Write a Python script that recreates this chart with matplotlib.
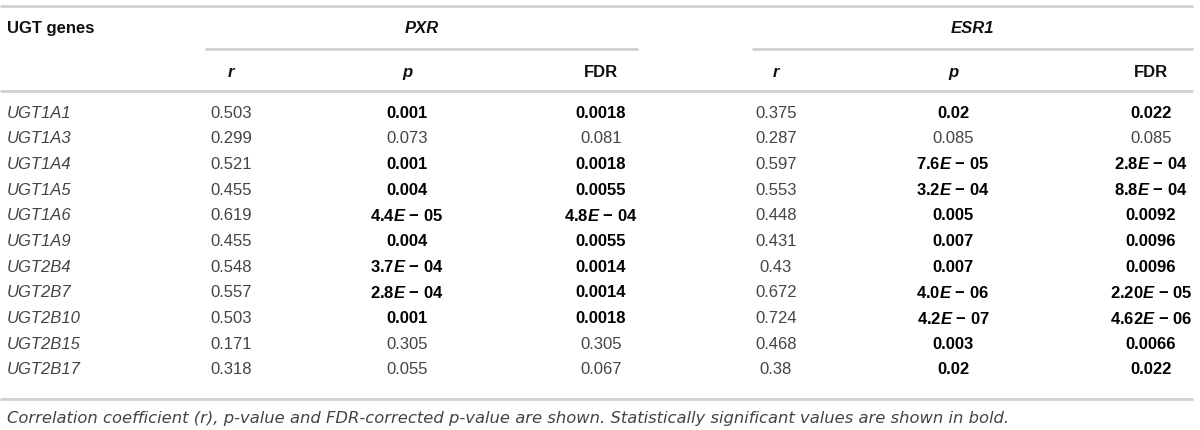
import matplotlib
matplotlib.use("Agg")
import matplotlib.pyplot as plt

# table contents
genes = ["UGT1A1", "UGT1A3", "UGT1A4", "UGT1A5", "UGT1A6", "UGT1A9",
         "UGT2B4", "UGT2B7", "UGT2B10", "UGT2B15", "UGT2B17"]

pxr_r = ["0.503", "0.299", "0.521", "0.455", "0.619", "0.455",
         "0.548", "0.557", "0.503", "0.171", "0.318"]
pxr_p = ["0.001", "0.073", "0.001", "0.004", "4.4E-05", "0.004",
         "3.7E-04", "2.8E-04", "0.001", "0.305", "0.055"]
pxr_fdr = ["0.0018", "0.081", "0.0018", "0.0055", "4.8E-04", "0.0055",
           "0.0014", "0.0014", "0.0018", "0.305", "0.067"]

esr1_r = ["0.375", "0.287", "0.597", "0.553", "0.448", "0.431",
          "0.43", "0.672", "0.724", "0.468", "0.38"]
esr1_p = ["0.02", "0.085", "7.6E-05", "3.2E-04", "0.005", "0.007",
          "0.007", "4.0E-06", "4.2E-07", "0.003", "0.02"]
esr1_fdr = ["0.022", "0.085", "2.8E-04", "8.8E-04", "0.0092", "0.0096",
            "0.0096", "2.20E-05", "4.62E-06", "0.0066", "0.022"]

groups = ["PXR", "ESR1"]
sub_headers = ["r", "p", "FDR"]
caption = ("Correlation coefficient (r), p-value and FDR-corrected p-value are shown. "
           "Statistically significant values are shown in bold.")

plt.rcParams['font.family'] = ['Liberation Sans', 'DejaVu Sans']
plt.rcParams['mathtext.fontset'] = 'custom'
plt.rcParams['mathtext.rm'] = 'Liberation Sans'
plt.rcParams['mathtext.it'] = 'Liberation Sans:italic'
plt.rcParams['mathtext.bf'] = 'Liberation Sans:bold'
plt.rcParams['mathtext.bfit'] = 'Liberation Sans:italic:bold'

fs = 12
line_col = '#d0d0d0'
txt_col = '#444444'

fig = plt.figure(figsize=(12, 4.3), dpi=100)
ax = fig.add_axes([0, 0, 1, 1])
ax.set_xlim(0, 1200)
ax.set_ylim(430, 0)
ax.axis('off')

col_x = [231, 407, 601, 776, 953, 1151]
group_spans = [(205, 638), (752, 1193)]
row_y0 = 113
row_dy = 25.7


def cell_text(s):
    val = float(s)
    bold = val < 0.05
    if "E" in s:
        mant, exp = s.split("E-")
        if bold:
            return r"$\mathbf{%s}\mathbfit{E}\ \mathbf{-}\ \mathbf{%s}$" % (mant, exp), bold
        return r"$%s\mathit{E}\ -\ %s$" % (mant, exp), bold
    return s, bold


# rules
ax.hlines(6, 0, 1193, color=line_col, lw=2)
ax.hlines(91, 0, 1193, color=line_col, lw=2)
ax.hlines(399, 0, 1193, color=line_col, lw=2)
for x0, x1 in group_spans:
    ax.hlines(49, x0, x1, color=line_col, lw=2)

# headers (baseline aligned so the descender in "genes" does not lift it)
ax.text(7, 33, "UGT genes", fontsize=fs, fontweight='bold', color='#111111',
        ha='left', va='baseline')
for g, (x0, x1) in zip(groups, group_spans):
    ax.text((x0 + x1) / 2, 33, g, fontsize=fs, fontweight='bold', style='italic',
            color='#111111', ha='center', va='baseline')
for i, x in enumerate(col_x):
    h = sub_headers[i % 3]
    ax.text(x, 77, h, fontsize=fs, fontweight='bold',
            style='normal' if h == "FDR" else 'italic',
            color='#111111', ha='center', va='baseline')

# body
columns = [pxr_r, pxr_p, pxr_fdr, esr1_r, esr1_p, esr1_fdr]
for i, gene in enumerate(genes):
    y = row_y0 + i * row_dy
    ax.text(7, y, gene, fontsize=fs, style='italic', color=txt_col,
            ha='left', va='center')
    for j, col in enumerate(columns):
        if j % 3 == 0:
            s, bold = col[i], False
        else:
            s, bold = cell_text(col[i])
        ax.text(col_x[j], y, s, fontsize=fs,
                fontweight='bold' if bold else 'normal',
                color='#000000' if bold else txt_col,
                ha='center', va='center')

ax.text(7, 418, caption, fontsize=11.8, style='italic', color=txt_col,
        family='DejaVu Sans', ha='left', va='center')

fig.savefig("out.png", dpi=100)
plt.close(fig)
